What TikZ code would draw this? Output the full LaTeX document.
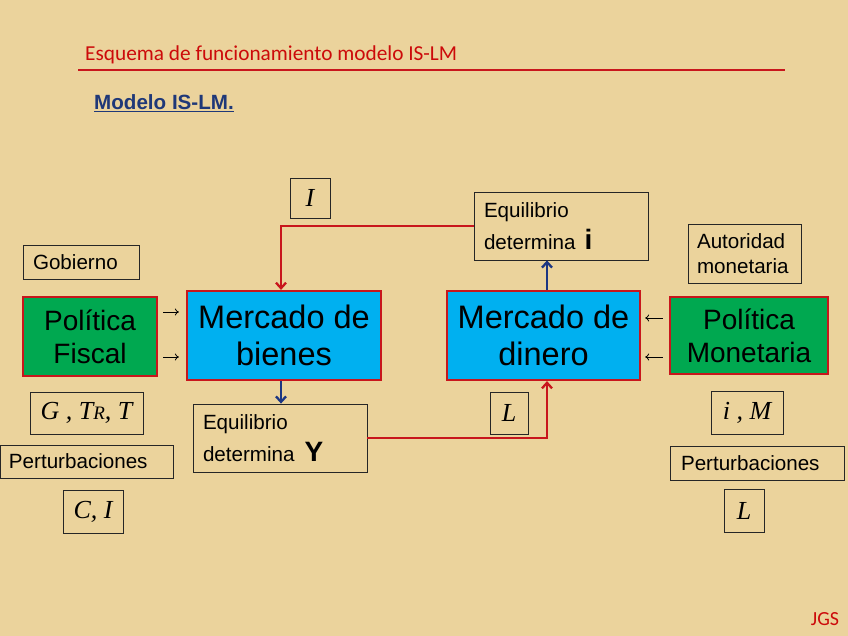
\documentclass[tikz,border=0pt]{standalone}
\usepackage{fontspec}
\setmainfont{Liberation Sans}
\newfontfamily\tnr{Liberation Serif}
\newfontfamily\calib{Carlito}
\usetikzlibrary{arrows.meta,calc}
\definecolor{bg}{RGB}{235,211,156}
\definecolor{bred}{RGB}{200,22,28}
\definecolor{bgreen}{RGB}{0,168,80}
\definecolor{bcyan}{RGB}{0,176,240}
\definecolor{bblue}{RGB}{28,54,130}
\definecolor{titlered}{RGB}{204,10,10}
\definecolor{navy}{RGB}{31,56,120}
\begin{document}
\begin{tikzpicture}[x=1pt,y=-1pt,
  lbl/.style={draw=black!85, line width=0.8pt, inner ysep=0pt, align=left, font=\fontsize{20.6}{25}\selectfont},
  mkt/.style={draw=bred, line width=2.2pt, fill=bcyan, inner sep=0pt, align=center, font=\fontsize{32.5}{37}\selectfont},
  pol/.style={draw=bred, line width=2.2pt, fill=bgreen, inner sep=0pt, align=center, font=\fontsize{28}{33}\selectfont},
  mathbox/.style={draw=black!85, line width=0.8pt, inner sep=0pt, font=\fontsize{26}{26}\selectfont\tnr\itshape},
  redarrow/.style={draw=bred, line width=2.3pt, -{Straight Barb[length=5.5pt,width=10pt]}},
  bluearrow/.style={draw=bblue, line width=2.3pt, -{Straight Barb[length=5.5pt,width=10pt]}},
  smallarrow/.style={draw=black, line width=0.8pt, -{To[length=4pt,width=7pt]}},
]
\fill[bg] (0,0) rectangle (848,636);
\useasboundingbox (0,0) rectangle (848,636);

% titles
\node[anchor=base west, inner sep=0pt, text=titlered, font=\calib\fontsize{21.3}{21}\selectfont] (title) at (85,61) {Esquema de funcionamiento modelo IS-LM};
\coordinate (rl) at (78,70);
\coordinate (rr) at (785,70);
\draw[bred, line width=1.3pt] (rl) -- (rr);
\node[anchor=base west, inner sep=0pt, text=navy, font=\bfseries\fontsize{20.6}{21}\selectfont] (sub) at (94,110) {\underline{Modelo IS-LM.}};
\node[anchor=center, inner sep=0pt, text=titlered, font=\calib\fontsize{20}{20}\selectfont] (jgs) at (825,619) {JGS};

% main boxes
\node[pol, minimum width=134pt, minimum height=79pt] (pf) at (90,336.5) {Política\\Fiscal};
\node[mkt, minimum width=194pt, minimum height=89pt] (mb) at (284,335.5) {Mercado de\\bienes};
\node[mkt, minimum width=193pt, minimum height=89pt] (md) at (543.5,335.5) {Mercado de\\dinero};
\node[pol, minimum width=158pt, minimum height=77pt] (pm) at (749,335.5) {Política\\Monetaria};

% label boxes
\node[lbl, minimum height=34pt, text width=96pt, inner xsep=10pt] (gob) at (81,262) {Gobierno};
\node[lbl, minimum height=59pt, text width=95pt, inner xsep=9pt] (aut) at (744.5,253.5) {Autoridad\\monetaria};
\node[lbl, minimum height=68pt, text width=154pt, inner xsep=10pt, font=\fontsize{20.6}{32}\selectfont] (eqi) at (561,226) {Equilibrio\\determina\hspace{9pt}{\bfseries\fontsize{28}{32}\selectfont i}};
\node[lbl, minimum height=68pt, text width=154pt, inner xsep=10pt, font=\fontsize{20.6}{32}\selectfont] (eqy) at (280,438) {Equilibrio\\determina\hspace{10pt}{\bfseries\fontsize{28}{32}\selectfont Y}};
\node[lbl, minimum height=33pt, text width=155pt, inner xsep=9pt] (pert1) at (86.5,461.5) {Perturbaciones};
\node[lbl, minimum height=34pt, text width=152pt, inner xsep=11pt] (pert2) at (757,463) {Perturbaciones};

% math boxes
\node[mathbox, minimum width=40pt, minimum height=40pt] (ib) at (310,198) {I};
\node[mathbox, minimum width=113pt, minimum height=42pt] (gt) at (86.5,413) {G , T{\fontsize{19}{19}\selectfont R}, T};
\node[mathbox, minimum width=60pt, minimum height=43pt] (ci) at (93,511.5) {C, I};
\node[mathbox, minimum width=38pt, minimum height=42pt] (lb) at (509,413) {L};
\node[mathbox, minimum width=72pt, minimum height=43pt] (im) at (747,412.5) {i , M};
\node[mathbox, minimum width=40pt, minimum height=43pt] (l2) at (744,510.5) {L};

% connectors
\draw[redarrow] (eqi.west) -| ([xshift=-3pt]mb.north);
\draw[bluearrow] ([xshift=-3pt]mb.south) -- ([xshift=-3pt]mb.south |- eqy.north);
\draw[redarrow] (eqy.east) -| ([xshift=3.5pt]md.south);
\draw[bluearrow] ([xshift=3.5pt]md.north) -- ([xshift=3.5pt]md.north |- eqi.south);

\draw[smallarrow] ($(pf.east |- 0,312)+(5,0)$) -- ($(mb.west |- 0,312)+(-7,0)$);
\draw[smallarrow] ($(pf.east |- 0,357)+(5,0)$) -- ($(mb.west |- 0,357)+(-7,0)$);
\draw[smallarrow] ($(pm.west |- 0,318)+(-6,0)$) -- ($(md.east |- 0,318)+(4,0)$);
\draw[smallarrow] ($(pm.west |- 0,357)+(-6,0)$) -- ($(md.east |- 0,357)+(4,0)$);
\end{tikzpicture}
\end{document}
